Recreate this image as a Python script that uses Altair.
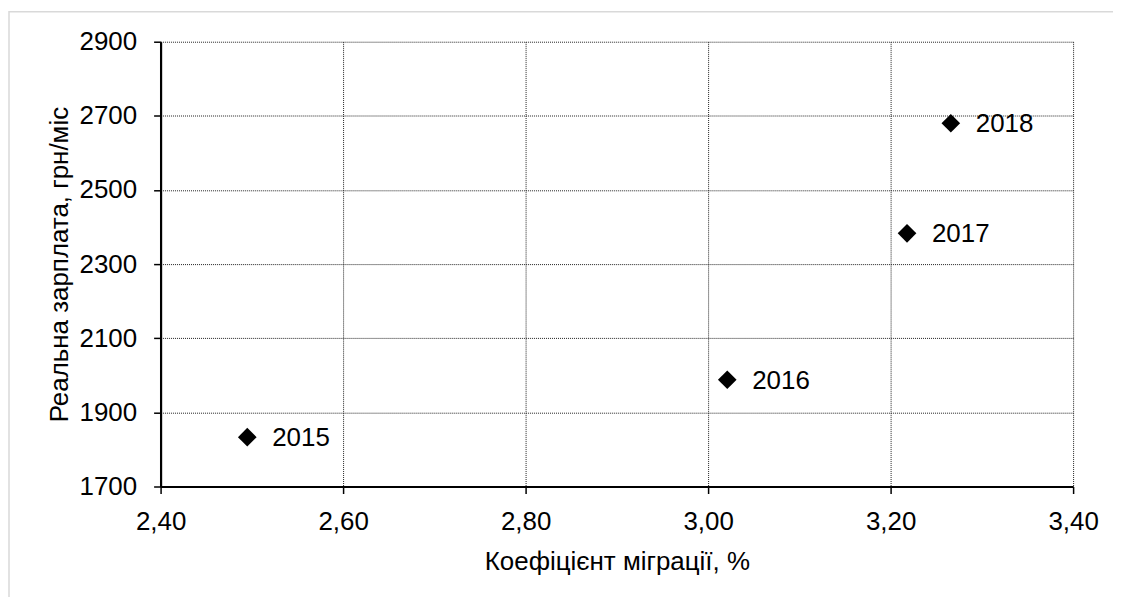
import altair as alt
import pandas as pd

years = ["2015", "2016", "2017", "2018"]
migration = [2.495, 3.021, 3.218, 3.266]
wage = [1833, 1988, 2383, 2680]

x_ticks = [2.4, 2.6, 2.8, 3.0, 3.2, 3.4]
y_ticks = [1700, 1900, 2100, 2300, 2500, 2700, 2900]

df = pd.DataFrame({"year": years, "x": migration, "y": wage})

W, H = 915, 446
FONT = "Liberation Sans"
FS = 26

xenc = alt.X("x:Q", scale=alt.Scale(domain=[2.4, 3.4], nice=False, zero=False),
             axis=alt.Axis(values=x_ticks, title="Коефіцієнт міграції, %",
                           labelExpr="replace(format(datum.value, '.2f'), '.', ',')",
                           grid=True, gridColor="#222222", gridDash=[1, 1], gridWidth=1,
                           domainColor="black", domainWidth=2.2, tickColor="black",
                           tickWidth=1.5, tickSize=7, labelPadding=15, titlePadding=14,
                           labelFlush=False))
yenc = alt.Y("y:Q", scale=alt.Scale(domain=[1700, 2900], nice=False, zero=False),
             axis=alt.Axis(values=y_ticks, title="Реальна зарплата, грн/міс", format="d",
                           grid=True, gridColor="#222222", gridDash=[1, 1], gridWidth=1,
                           domainColor="black", domainWidth=2.2, tickColor="black",
                           tickWidth=1.5, tickSize=7, labelPadding=17, titlePadding=6,
                           labelFlush=False))

border = alt.Chart(pd.DataFrame({"a": [0]})).mark_rect(
    fill=None, stroke="#d9d9d9", strokeWidth=1.5, clip=False
).encode(x=alt.value(-152), x2=alt.value(W + 200), y=alt.value(-30), y2=alt.value(H + 200))

points = alt.Chart(df).mark_point(shape="diamond", filled=True, color="black",
                                  size=350, opacity=1).encode(x=xenc, y=yenc)
labels = alt.Chart(df).mark_text(align="left", baseline="middle", dx=25, dy=1,
                                 font=FONT, fontSize=FS, color="black").encode(
    x="x:Q", y="y:Q", text="year:N")

chart = alt.layer(border, points, labels).properties(
    width=W, height=H,
    autosize=alt.AutoSizeParams(type="none"),
    padding={"left": 153, "top": 33, "right": 40, "bottom": 110},
    background="white",
).configure_view(stroke=None).configure_axis(
    labelFont=FONT, titleFont=FONT, labelFontSize=FS, titleFontSize=FS,
    labelColor="black", titleColor="black", titleFontWeight="normal"
)

chart.save("out.html", embed_options={"renderer": "svg", "actions": False})
